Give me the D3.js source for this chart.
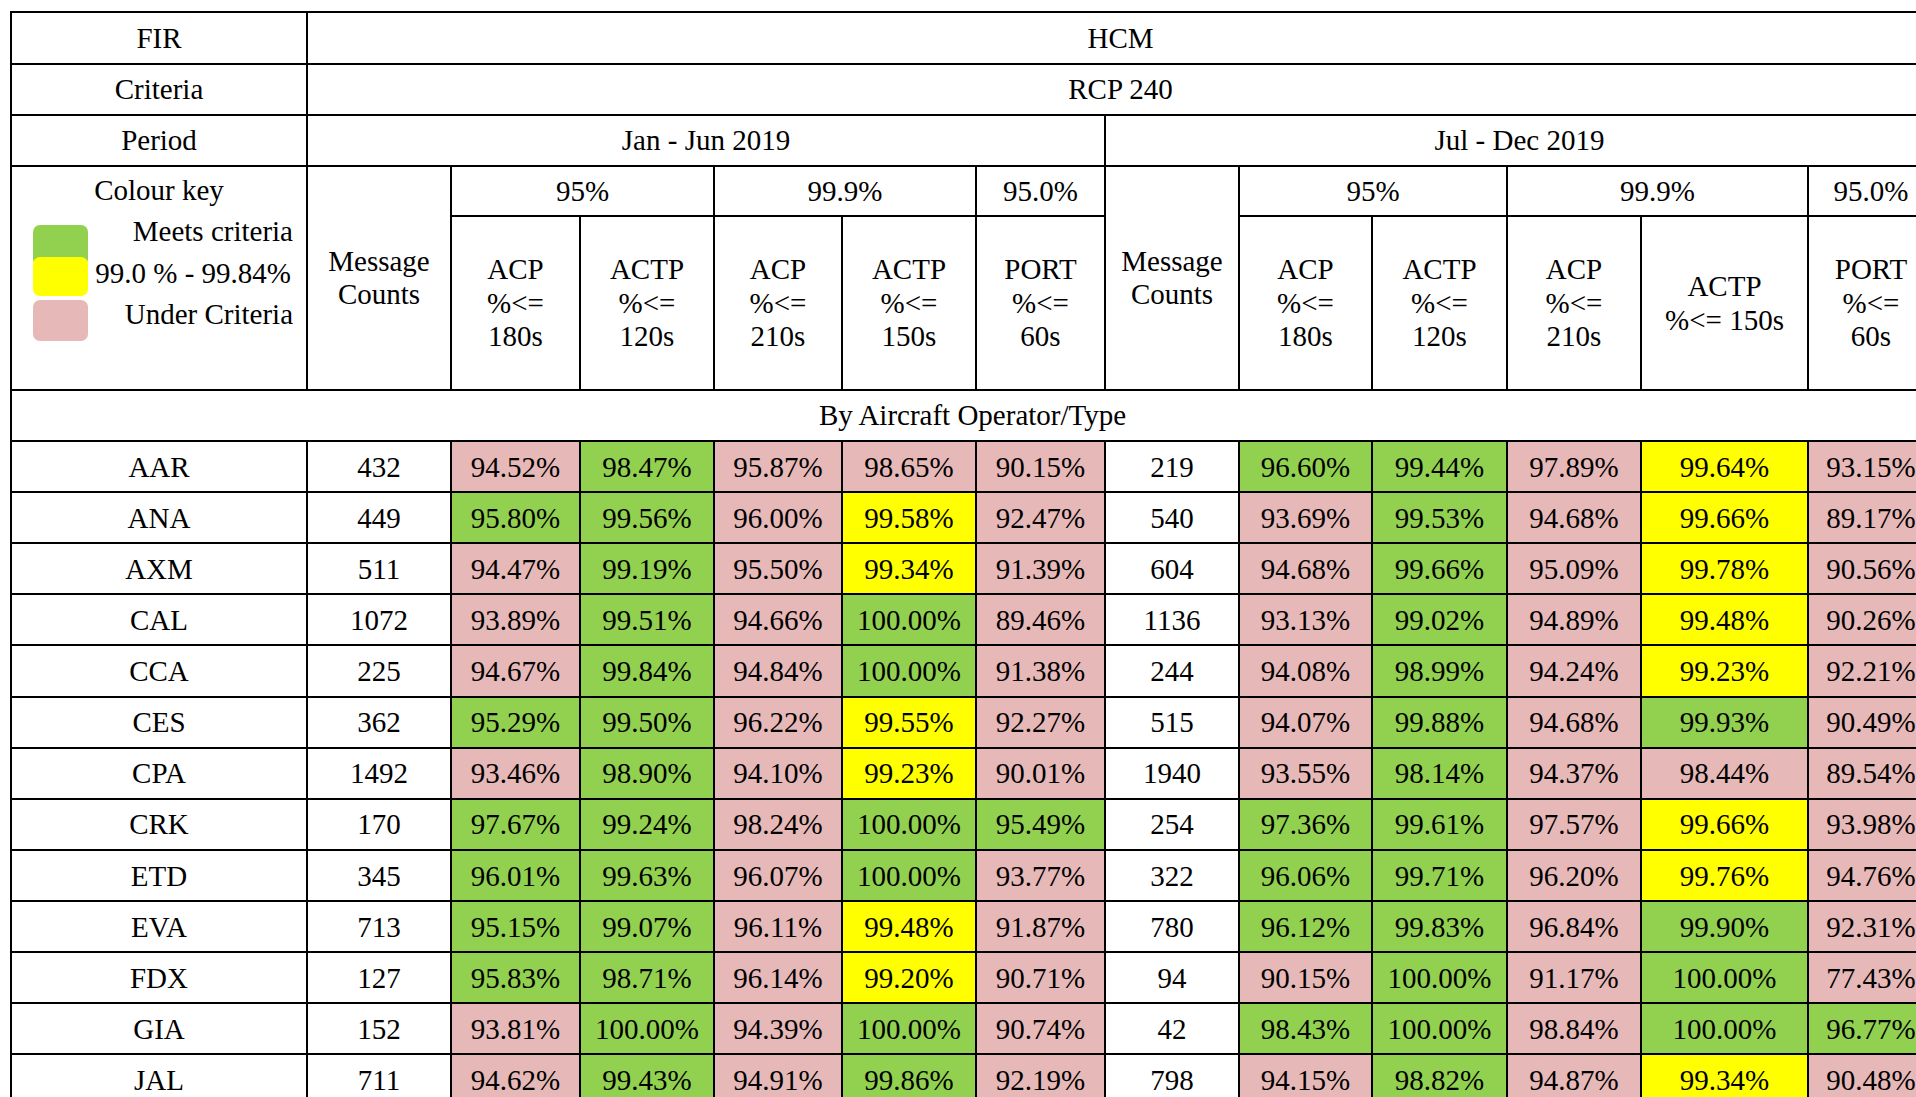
<!DOCTYPE html>
<html>
<head>
<meta charset="utf-8">
<script src="https://cdn.jsdelivr.net/npm/d3@7"></script>
<style>
  html, body { margin: 0; padding: 0; background: #fff; overflow: hidden; }
  svg { display: block; }
  text { font-family: "Liberation Serif", "Times New Roman", serif; fill: #000; }
</style>
</head>
<body>
<script>
// ---------------- DATA ----------------
const fir = "HCM";
const criteria = "RCP 240";
const periods = ["Jan - Jun 2019", "Jul - Dec 2019"];
const groupLabels = ["95%", "99.9%", "95.0%"];
const metricLabels = [
  ["ACP", "%<=", "180s"],
  ["ACTP", "%<=", "120s"],
  ["ACP", "%<=", "210s"],
  ["ACTP", "%<=", "150s"],
  ["PORT", "%<=", "60s"]
];
const metricTargets = [95, 95, 99.9, 99.9, 95];
const legendLabels = ["Meets criteria", "99.0 % - 99.84%", "Under Criteria"];
const sectionTitle = "By Aircraft Operator/Type";

const operators = ["AAR", "ANA", "AXM", "CAL", "CCA", "CES", "CPA", "CRK", "ETD", "EVA", "FDX", "GIA", "JAL"];

const countsH1   = [432, 449, 511, 1072, 225, 362, 1492, 170, 345, 713, 127, 152, 711];
const acp180H1   = [94.52, 95.80, 94.47, 93.89, 94.67, 95.29, 93.46, 97.67, 96.01, 95.15, 95.83, 93.81, 94.62];
const actp120H1  = [98.47, 99.56, 99.19, 99.51, 99.84, 99.50, 98.90, 99.24, 99.63, 99.07, 98.71, 100.00, 99.43];
const acp210H1   = [95.87, 96.00, 95.50, 94.66, 94.84, 96.22, 94.10, 98.24, 96.07, 96.11, 96.14, 94.39, 94.91];
const actp150H1  = [98.65, 99.58, 99.34, 100.00, 100.00, 99.55, 99.23, 100.00, 100.00, 99.48, 99.20, 100.00, 99.86];
const port60H1   = [90.15, 92.47, 91.39, 89.46, 91.38, 92.27, 90.01, 95.49, 93.77, 91.87, 90.71, 90.74, 92.19];

const countsH2   = [219, 540, 604, 1136, 244, 515, 1940, 254, 322, 780, 94, 42, 798];
const acp180H2   = [96.60, 93.69, 94.68, 93.13, 94.08, 94.07, 93.55, 97.36, 96.06, 96.12, 90.15, 98.43, 94.15];
const actp120H2  = [99.44, 99.53, 99.66, 99.02, 98.99, 99.88, 98.14, 99.61, 99.71, 99.83, 100.00, 100.00, 98.82];
const acp210H2   = [97.89, 94.68, 95.09, 94.89, 94.24, 94.68, 94.37, 97.57, 96.20, 96.84, 91.17, 98.84, 94.87];
const actp150H2  = [99.64, 99.66, 99.78, 99.48, 99.23, 99.93, 98.44, 99.66, 99.76, 99.90, 100.00, 100.00, 99.34];
const port60H2   = [93.15, 89.17, 90.56, 90.26, 92.21, 90.49, 89.54, 93.98, 94.76, 92.31, 77.43, 96.77, 90.48];

const halfCounts = [countsH1, countsH2];
const halfMetrics = [
  [acp180H1, actp120H1, acp210H1, actp150H1, port60H1],
  [acp180H2, actp120H2, acp210H2, actp150H2, port60H2]
];

// ---------------- LAYOUT ----------------
const W = 1916, H = 1097;
const GREEN = "#92D050", YELLOW = "#FFFF00", PINK = "#E6B8B7";
const FONT = 29;
const colEdges = [11, 307, 451, 580, 714, 842, 976, 1105, 1239, 1372, 1507, 1641, 1808, 1934];
const LAST = colEdges.length - 2; // index of last column
const headerEdges = [12, 63.5, 114.5, 165.5, 216, 389.5, 441];
const rowH = 51.12;

const colorFor = (target) => target >= 99
  ? d3.scaleThreshold().domain([99.0, 99.85]).range([PINK, YELLOW, GREEN])
  : d3.scaleThreshold().domain([target]).range([PINK, GREEN]);

const yRow = d3.scaleLinear().domain([0, 1]).range([headerEdges[6], headerEdges[6] + rowH]);

const svg = d3.select("body").append("svg").attr("width", W).attr("height", H);
svg.append("rect").attr("width", W).attr("height", H).attr("fill", "#fff");

const fills = svg.append("g");
const texts = svg.append("g");
const lines = svg.append("g");

const X = (c) => colEdges[c];
// cell: c0..c1 (inclusive col index), y0, y1
function cell(c0, c1, y0, y1, label, fill) {
  const x0 = X(c0), x1 = X(c1 + 1);
  if (fill) fills.append("rect").attr("x", x0).attr("y", y0).attr("width", x1 - x0).attr("height", y1 - y0).attr("fill", fill);
  lines.append("rect").attr("x", Math.round(x0)).attr("y", Math.round(y0))
    .attr("width", Math.round(x1) - Math.round(x0)).attr("height", Math.round(y1) - Math.round(y0))
    .attr("fill", "none").attr("stroke", "#000").attr("stroke-width", 2);
  if (label !== undefined && label !== null) {
    const arr = Array.isArray(label) ? label : [label];
    const lh = 33.6;
    const cx = (x0 + x1) / 2, cy = (y0 + y1) / 2;
    arr.forEach((t, i) => {
      texts.append("text").attr("x", cx).attr("y", cy + (i - (arr.length - 1) / 2) * lh)
        .attr("text-anchor", "middle").attr("dominant-baseline", "central")
        .attr("font-size", FONT).text(t);
    });
  }
}

const he = headerEdges;
cell(0, 0, he[0], he[1], "FIR");
cell(1, LAST, he[0], he[1], fir);
cell(0, 0, he[1], he[2], "Criteria");
cell(1, LAST, he[1], he[2], criteria);
cell(0, 0, he[2], he[3], "Period");
cell(1, 6, he[2], he[3], periods[0]);
cell(7, LAST, he[2], he[3], periods[1]);

// colour key cell
cell(0, 0, he[3], he[5], null);
texts.append("text").attr("x", (X(0) + X(1)) / 2).attr("y", 200).attr("text-anchor", "middle")
  .attr("font-size", FONT).text("Colour key");
const swatches = [
  {c: GREEN, y0: 225, y1: 266},
  {c: YELLOW, y0: 257, y1: 296},
  {c: PINK, y0: 300, y1: 341}
];
fills.selectAll("rect.sw").data(swatches).join("rect").attr("class", "sw")
  .attr("x", 33).attr("width", 55).attr("y", d => d.y0).attr("height", d => d.y1 - d.y0)
  .attr("rx", 7).attr("fill", d => d.c);
const legBase = [241, 283, 324];
const legEnd = [293, 291, 293];
legendLabels.forEach((t, i) => {
  texts.append("text").attr("x", legEnd[i]).attr("y", legBase[i]).attr("text-anchor", "end")
    .attr("font-size", FONT).text(t);
});

// sub headers for both halves
[0, 1].forEach(h => {
  const base = h === 0 ? 1 : 7;
  cell(base, base, he[3], he[5], ["Message", "Counts"]);
  cell(base + 1, base + 2, he[3], he[4], groupLabels[0]);
  cell(base + 3, base + 4, he[3], he[4], groupLabels[1]);
  cell(base + 5, base + 5, he[3], he[4], groupLabels[2]);
  metricLabels.forEach((lab, m) => {
    let l = lab;
    if (h === 1 && m === 3) l = [lab[0], lab[1] + " " + lab[2]];
    cell(base + 1 + m, base + 1 + m, he[4], he[5], l);
  });
});

cell(0, LAST, he[5], he[6], sectionTitle);

// data rows
operators.forEach((op, r) => {
  const y0 = yRow(r), y1 = yRow(r + 1);
  cell(0, 0, y0, y1, op);
  [0, 1].forEach(h => {
    const base = h === 0 ? 1 : 7;
    cell(base, base, y0, y1, String(halfCounts[h][r]));
    halfMetrics[h].forEach((arr, m) => {
      const v = arr[r];
      cell(base + 1 + m, base + 1 + m, y0, y1, v.toFixed(2) + "%", colorFor(metricTargets[m])(v));
    });
  });
});
</script>
</body>
</html>
